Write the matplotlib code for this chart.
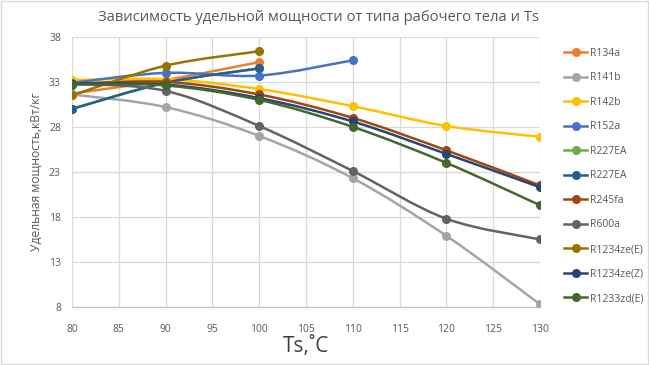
import numpy as np
import matplotlib
matplotlib.use("Agg")
from matplotlib import pyplot as plt
from matplotlib.path import Path
from matplotlib.patches import PathPatch, Rectangle
from matplotlib.lines import Line2D

plt.rcParams['font.family'] = ['Open Sans', 'DejaVu Sans']

ts = [80, 90, 100, 110, 120, 130]

names = ["R134a", "R141b", "R142b", "R152a", "R227EA", "R227EA",
         "R245fa", "R600a", "R1234ze(E)", "R1234ze(Z)", "R1233zd(E)"]
colors = ["#ED7D31", "#A5A5A5", "#FFC000", "#4472C4", "#70AD47", "#255E91",
          "#9E480E", "#636363", "#997300", "#264478", "#43682B"]

r134a = [31.7, 33.2, 35.2]
r141b = [31.6, 30.2, 27.0, 22.3, 15.9, 8.3]
r142b = [33.2, 33.3, 32.2, 30.3, 28.1, 26.9]
r152a = [32.9, 34.0, 33.7, 35.4]
r227ea_1 = [30.0, 32.9, 34.5]
r227ea_2 = [30.0, 32.9, 34.5]
r245fa = [32.8, 33.0, 31.6, 29.0, 25.4, 21.5]
r600a = [32.8, 32.0, 28.1, 23.1, 17.8, 15.5]
r1234ze_e = [31.5, 34.8, 36.4]
r1234ze_z = [32.8, 32.7, 31.2, 28.6, 25.0, 21.3]
r1233zd_e = [32.7, 32.6, 31.0, 28.0, 24.0, 19.3]

series = [r134a, r141b, r142b, r152a, r227ea_1, r227ea_2,
          r245fa, r600a, r1234ze_e, r1234ze_z, r1233zd_e]


def smooth_path(x, y):
    # catmull-rom -> bezier, like excel "smoothed line"
    x = np.asarray(x, float)
    y = np.asarray(y, float)
    pts = np.column_stack([x, y])
    verts = [pts[0]]
    codes = [Path.MOVETO]
    n = len(pts)
    for i in range(n - 1):
        p0 = pts[i - 1] if i > 0 else pts[i]
        p1 = pts[i]
        p2 = pts[i + 1]
        p3 = pts[i + 2] if i + 2 < n else pts[i + 1]
        c1 = p1 + (p2 - p0) / 6
        c2 = p2 - (p3 - p1) / 6
        verts += [c1, c2, p2]
        codes += [Path.CURVE4] * 3
    return Path(verts, codes)


fig = plt.figure(figsize=(6.49, 3.65), dpi=100)
ax = fig.add_axes([0.111, 0.159, 0.721, 0.740])

handles = []
for name, col, vals in zip(names, colors, series):
    x = ts[:len(vals)]
    ax.add_patch(PathPatch(smooth_path(x, vals), facecolor="none",
                           edgecolor=col, lw=1.8, zorder=3))
    ax.plot(x, vals, linestyle="none", marker="o", ms=5.5, color=col, zorder=4)
    handles.append(Line2D([0], [0], color=col, lw=1.8, marker="o", ms=5.5))

ax.set_xlim(80, 130)
ax.set_ylim(8, 38)
ax.set_xticks(np.arange(80, 131, 5))
ax.set_yticks(np.arange(8, 39, 5))
ax.grid(True, color="#D9D9D9", lw=0.9)
ax.set_axisbelow(True)
for s in ["top", "right", "left"]:
    ax.spines[s].set_visible(False)
ax.spines["bottom"].set_color("#BFBFBF")
ax.tick_params(length=0, labelsize=7.5, labelcolor="#595959")
ax.tick_params(axis="x", pad=12)
ax.tick_params(axis="y", pad=8)

fig.text(0.491, 0.952, "Зависимость удельной мощности от типа рабочего тела и Ts",
         fontsize=10.6, color="#595959", ha="center", va="center")
ax.set_xlabel("Ts,˚C", fontsize=15, color="#404040", labelpad=1)
ax.set_ylabel("Удельная мощность,кВт/кг", fontsize=8.7, color="#595959", labelpad=4)

fig.legend(handles, names, loc="upper left", bbox_to_anchor=(0.855, 0.895),
           frameon=False, fontsize=7.5, labelcolor="#595959", handlelength=2.2,
           labelspacing=1.3, handletextpad=0.3)

fig.patches.append(Rectangle((0.002, 0.003), 0.996, 0.994, transform=fig.transFigure,
                             fill=False, edgecolor="#D9D9D9", lw=1))

fig.savefig("out.png", dpi=100)
